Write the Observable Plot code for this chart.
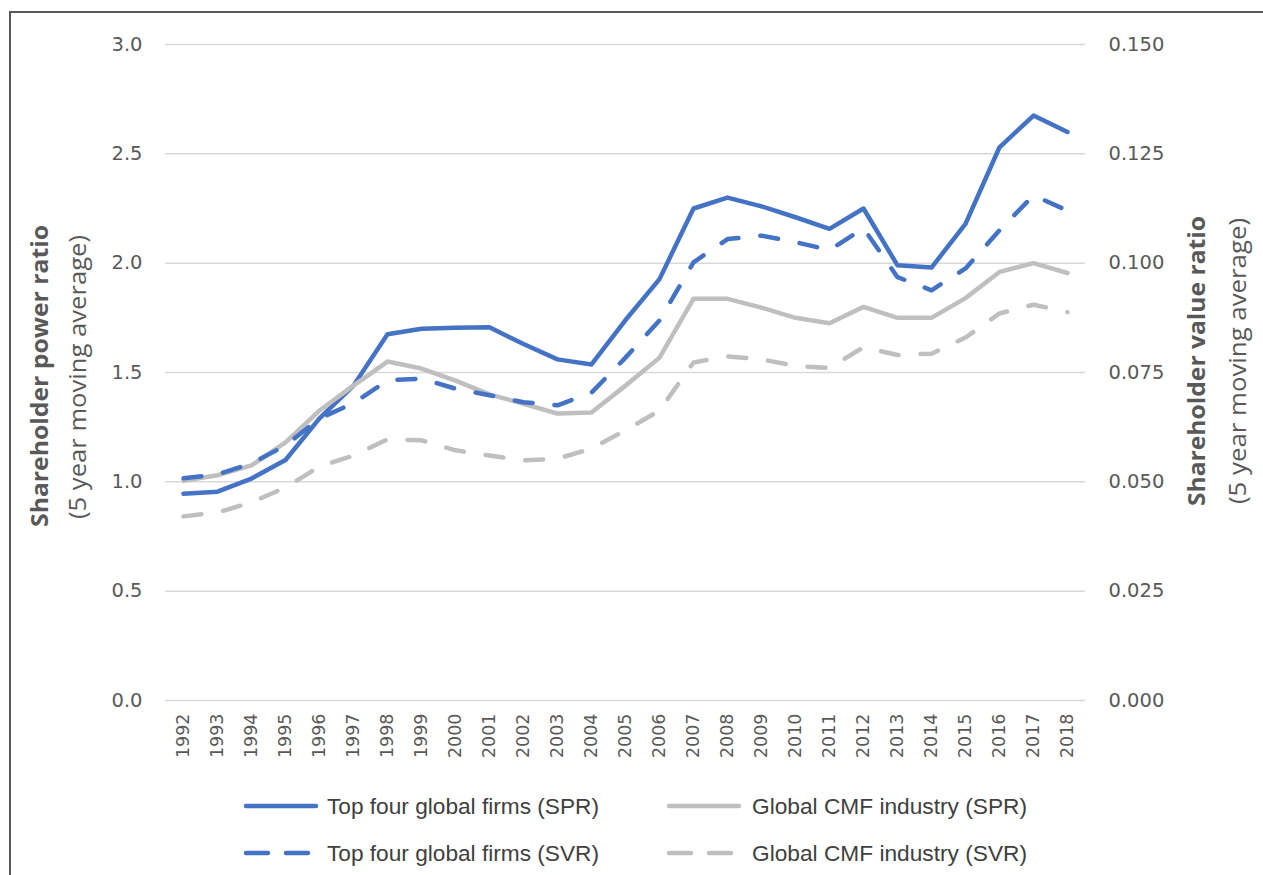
<!DOCTYPE html>
<html><head><meta charset="utf-8">
<script src="https://cdn.jsdelivr.net/npm/d3@7"></script>
<script src="https://cdn.jsdelivr.net/npm/@observablehq/plot@0.6"></script>
<style>
body{margin:0;background:#fff;}
#wrap{position:relative;width:1263px;height:875px;overflow:hidden;background:#fff;}
#frame{position:absolute;left:9px;top:11px;width:1260px;height:870px;border-top:2px solid #595959;border-left:2px solid #595959;pointer-events:none;}
#chart svg{display:block}
</style></head><body>
<div id="wrap"><div id="chart"></div><div id="frame"></div></div>
<script>
// ---- data ----
const years = ["1992","1993","1994","1995","1996","1997","1998","1999","2000","2001","2002","2003","2004","2005","2006","2007","2008","2009","2010","2011","2012","2013","2014","2015","2016","2017","2018"];
// Shareholder power ratio (left axis)
const topFourSPR = [0.945,0.955,1.015,1.10,1.29,1.44,1.675,1.70,1.705,1.707,1.63,1.56,1.537,1.74,1.927,2.25,2.30,2.26,2.21,2.157,2.25,1.99,1.98,2.18,2.53,2.675,2.60];
const cmfSPR = [1.005,1.03,1.075,1.18,1.326,1.44,1.55,1.518,1.463,1.40,1.357,1.312,1.317,1.44,1.568,1.837,1.837,1.797,1.75,1.725,1.80,1.75,1.75,1.84,1.96,2.00,1.955];
// Shareholder value ratio (right axis)
const topFourSVR = [0.0508,0.0517,0.0542,0.0583,0.0645,0.068,0.0732,0.0736,0.0713,0.0698,0.0682,0.0675,0.0704,0.0784,0.0869,0.1002,0.1055,0.1063,0.1048,0.103,0.108,0.0968,0.0938,0.0988,0.1075,0.1155,0.112];
const cmfSVR = [0.0421,0.043,0.0453,0.0487,0.0535,0.056,0.0597,0.0595,0.0572,0.056,0.0549,0.0553,0.0576,0.0618,0.0663,0.0773,0.0787,0.078,0.0765,0.076,0.0808,0.079,0.0793,0.083,0.0885,0.0905,0.0888];
const leftTicks = [0,0.5,1.0,1.5,2.0,2.5,3.0];
const rightTicks = [0,0.025,0.05,0.075,0.1,0.125,0.15];
const seriesNames = ["Top four global firms (SPR)","Global CMF industry (SPR)","Top four global firms (SVR)","Global CMF industry (SVR)"];

const ratio = 3.0 / 0.15; // secondary axis mapping
const BLUE = "#4472c4", GREY = "#bfbfbf";
const DASH = "18,22";

const lineOpts = (vals, color, dashed, k) => ({
  x: (d) => d,
  y: (d, i) => vals[i] * k,
  stroke: color,
  strokeWidth: 4.5,
  strokeLinejoin: "round",
  strokeLinecap: "round",
  strokeDasharray: dashed ? DASH : null
});

const plot = Plot.plot({
  width: 1263,
  height: 775,
  marginTop: 44,
  marginBottom: 75,
  marginLeft: 165,
  marginRight: 178,
  style: {fontFamily: "DejaVu Sans", background: "transparent"},
  x: {type: "point", domain: years, padding: 0.5},
  y: {domain: [0, 3]},
  marks: [
    Plot.gridY(leftTicks, {stroke: "#d9d9d9", strokeOpacity: 1, strokeWidth: 1.5}),
    Plot.axisY(leftTicks, {tickSize: 0, tickPadding: 23, tickFormat: d3.format(".1f"), fontSize: 19.5, color: "#595959", label: null}),
    Plot.axisY(rightTicks.map(v => v * ratio), {anchor: "right", tickSize: 0, tickPadding: 23, tickFormat: (d, i) => rightTicks[i].toFixed(3), fontSize: 19.5, color: "#595959", label: null}),
    Plot.axisX(years, {tickSize: 0, tickPadding: 13, tickRotate: -90, fontSize: 17.5, color: "#595959", label: null}),
    Plot.line(years, lineOpts(topFourSPR, BLUE, false, 1)),
    Plot.line(years, lineOpts(cmfSPR, GREY, false, 1)),
    Plot.line(years, lineOpts(topFourSVR, BLUE, true, ratio)),
    Plot.line(years, lineOpts(cmfSVR, GREY, true, ratio))
  ]
});

const svg = d3.select(plot);
function vtext(x, y, str, weight, len, size) {
  svg.append("text")
    .attr("transform", `translate(${x},${y}) rotate(-90)`)
    .attr("text-anchor", "middle")
    .attr("dominant-baseline", "central")
    .attr("font-family", "Open Sans")
    .attr("font-weight", weight)
    .attr("font-size", size)
    .attr("fill", "#595959")
    .attr("textLength", len)
    .attr("lengthAdjust", "spacingAndGlyphs")
    .text(str);
}
vtext(39, 376, "Shareholder power ratio", "bold", 302, 23);
vtext(77, 377, "(5 year moving average)", "normal", 284, 23);
vtext(1196, 361, "Shareholder value ratio", "bold", 290, 23);
vtext(1237, 361, "(5 year moving average)", "normal", 286, 23);

document.getElementById("chart").appendChild(plot);

// ---- legend (below the plot SVG) ----
const leg = d3.create("svg").attr("width", 1263).attr("height", 100).style("display", "block");
const items = [
  {name: seriesNames[0], color: BLUE, dashed: false, x0: 246, tx: 327, y: 31},
  {name: seriesNames[1], color: GREY, dashed: false, x0: 669, tx: 752, y: 31},
  {name: seriesNames[2], color: BLUE, dashed: true, x0: 246, tx: 327, y: 78},
  {name: seriesNames[3], color: GREY, dashed: true, x0: 669, tx: 752, y: 78}
];
for (const it of items) {
  leg.append("line")
    .attr("x1", it.x0).attr("x2", it.x0 + 70)
    .attr("y1", it.y).attr("y2", it.y)
    .attr("stroke", it.color).attr("stroke-width", 4.5)
    .attr("stroke-linecap", "round")
    .attr("stroke-dasharray", it.dashed ? "22,18" : null);
  leg.append("text")
    .attr("x", it.tx).attr("y", it.y)
    .attr("dominant-baseline", "central")
    .attr("font-family", "Liberation Sans")
    .attr("font-size", 22)
    .attr("fill", "#404040")
    .attr("textLength", it.tx < 500 ? 272 : 275)
    .attr("lengthAdjust", "spacingAndGlyphs")
    .text(it.name);
}
document.getElementById("chart").appendChild(leg.node());
</script>
</body></html>
